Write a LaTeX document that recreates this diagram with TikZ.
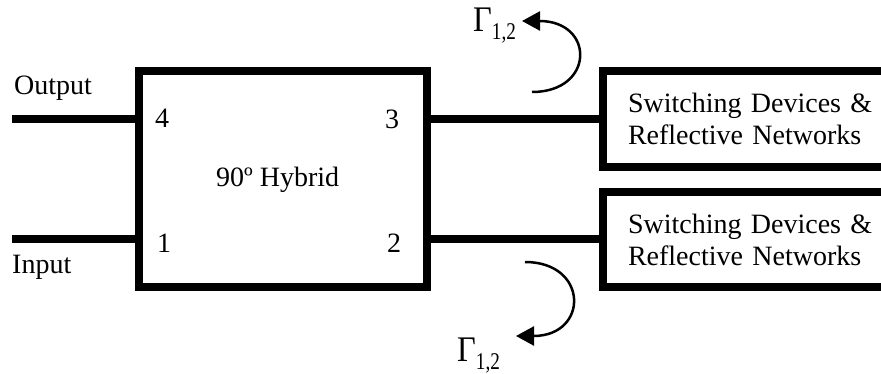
\documentclass[tikz,border=0pt]{standalone}
\usepackage{graphicx}
\usepackage{fontspec}
\setmainfont{Liberation Serif}
\usetikzlibrary{arrows.meta}
\newcommand\gammalab{\scalebox{0.9}[1]{\fontsize{36}{36}\selectfont Γ}\raisebox{-8pt}{\scalebox{0.8}[1]{\fontsize{24}{24}\selectfont 1,2}}}
\begin{document}
\begin{tikzpicture}[x=1pt,y=-1pt,
  blk/.style={draw, line width=8pt, outer sep=0pt, inner sep=0pt},
  wire/.style={line width=8pt},
  lab/.style={inner sep=0pt, anchor=base west, font=\fontsize{28}{32}\selectfont},
  rbox/.style={draw, line width=8pt, outer sep=0pt, anchor=west, text width=250pt, inner xsep=25pt, align=left, font=\fontsize{28}{32}\selectfont},
  refl/.style={line width=2.5pt, -{Triangle[length=18pt,width=19pt]}},
  glab/.style={inner sep=0pt, anchor=base west}]
\useasboundingbox (0,0) rectangle (881,374);
\clip (0,0) rectangle (881,374);
\fill[white] (0,0) rectangle (881,374);

% 90 degree hybrid
\node[blk, minimum width=288pt, minimum height=216pt] (hyb) at (282.5,179) {};
% switching / reflective boxes
\node[rbox, minimum height=96pt] (sw1) at (603,119) {Switching Devices \&\\Reflective Networks};
\node[rbox, minimum height=95.5pt] (sw2) at (603,239.5) {Switching Devices \&\\Reflective Networks};

% free ends of port lines
\coordinate (outend) at (12,119.5);
\coordinate (inend) at (12,239.5);

\draw[wire] (outend) -- (outend -| hyb.west);
\draw[wire] (inend) -- (inend -| hyb.west);
\draw[wire] (sw1.west -| hyb.east) -- (sw1.west);
\draw[wire] (sw2.west -| hyb.east) -- (sw2.west);

% labels
\node[lab] (lout) at (14,95) {Output};
\node[lab] (lin) at (12,273) {Input};
\node[lab] (p4) at (155,128) {4};
\node[lab] (p3) at (385,129) {3};
\node[lab] (p1) at (157,253) {1};
\node[lab] (p2) at (387,253) {2};
\node[lab] (hlab) at (216,187) {90º Hybrid};

% reflection arrows
\coordinate (r1s) at (532,92);
\coordinate (r1e) at (522,21);
\coordinate (r2s) at (525,262);
\coordinate (r2e) at (516,336);
\draw[refl] (r1s) .. controls (595,92) and (595,21) .. (r1e);
\draw[refl] (r2s) .. controls (589,262) and (589,336) .. (r2e);

\node[glab] (g1) at (473,32) {\gammalab};
\node[glab] (g2) at (457,361) {\gammalab};
\end{tikzpicture}
\end{document}
